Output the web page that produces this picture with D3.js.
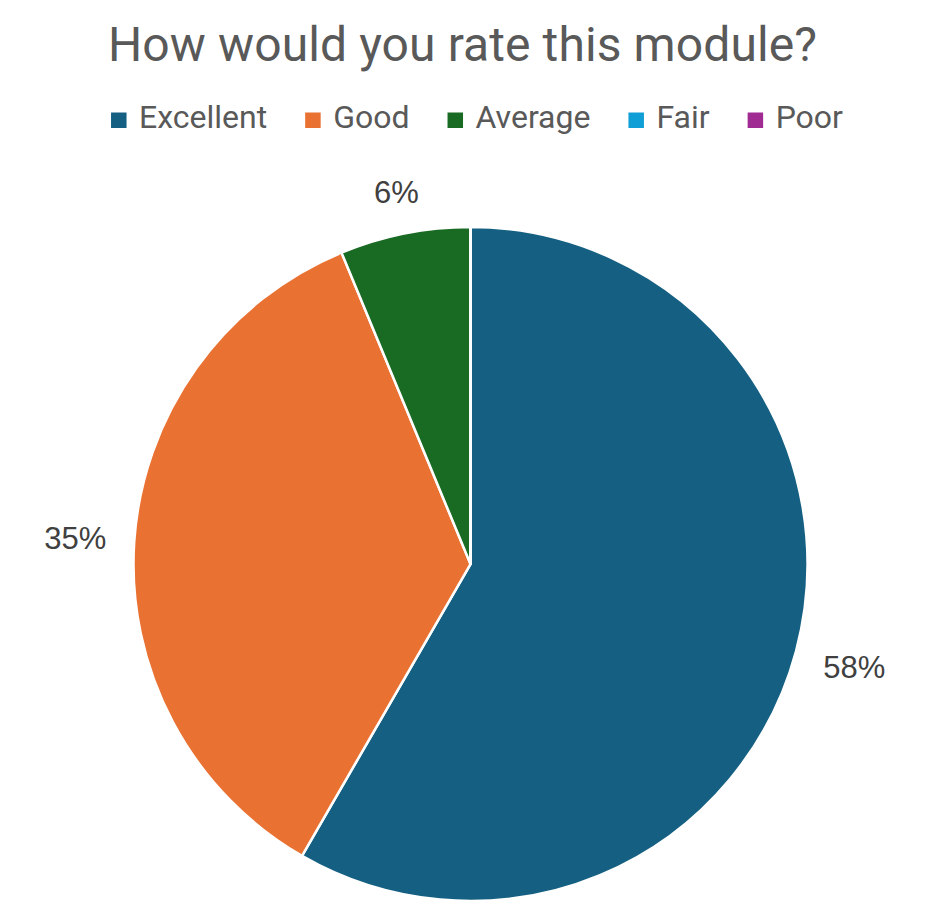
<!DOCTYPE html>
<html>
<head>
<meta charset="utf-8">
<script src="https://cdn.jsdelivr.net/npm/d3@7"></script>
<style>
  body { margin: 0; background: #fff; }
</style>
</head>
<body>
<div id="chart"></div>
<script>
// data
var categories = ["Excellent", "Good", "Average", "Fair", "Poor"];
var responses = [28, 17, 3, 0, 0];
var colors = ["#156082", "#E97132", "#196B24", "#0F9ED5", "#A02B93"];
var title = "How would you rate this module?";

var width = 945, height = 911;
var cx = 470.5, cy = 564, radius = 337;

var svg = d3.select("#chart")
  .append("svg")
    .attr("width", width)
    .attr("height", height);

// title
svg.append("text")
  .attr("x", 108)
  .attr("y", 61)
  .attr("textLength", 709)
  .attr("lengthAdjust", "spacing")
  .style("font-family", "Roboto")
  .style("font-size", "48px")
  .style("fill", "#595959")
  .text(title);

// legend
var legend = svg.append("g");
var lx = 0, itemGap = 38;
categories.forEach(function(c, i) {
  var item = legend.append("g").attr("transform", "translate(" + lx + ",0)");
  item.append("rect")
    .attr("x", 0)
    .attr("y", 112.5)
    .attr("width", 15.5)
    .attr("height", 15.5)
    .attr("fill", colors[i]);
  var t = item.append("text")
    .attr("x", 28)
    .attr("y", 128)
    .style("font-family", "Roboto")
    .style("font-size", "32px")
    .style("fill", "#595959")
    .text(c);
  lx += 28 + t.node().getComputedTextLength() + itemGap;
});
var legendW = lx - itemGap;
legend.attr("transform", "translate(" + (477 - legendW / 2) + ",0)");

// pie
var total = d3.sum(responses);
var pie = d3.pie().sort(null).value(function(d) { return d; });
var arc = d3.arc().innerRadius(0).outerRadius(radius);
var arcs = pie(responses);

var g = svg.append("g").attr("transform", "translate(" + cx + "," + cy + ")");

g.selectAll("path")
  .data(arcs)
  .enter()
  .append("path")
    .attr("d", arc)
    .attr("fill", function(d, i) { return colors[i]; })
    .attr("stroke", "#fff")
    .attr("stroke-width", 2.5)
    .attr("stroke-linejoin", "round");

// data labels outside end
var fmt = d3.format(".0%");
var gap = 27.5, capH = 31 * 0.716;
arcs.forEach(function(d) {
  if (d.value === 0) return;
  var a = (d.startAngle + d.endAngle) / 2;
  var t = g.append("text")
    .attr("text-anchor", "middle")
    .style("font-family", "Liberation Sans, Arial, sans-serif")
    .style("font-size", "31px")
    .style("fill", "#404040")
    .text(fmt(d.value / total));
  var hw = t.node().getComputedTextLength() / 2;
  var r = radius + gap + Math.abs(Math.sin(a)) * hw + Math.abs(Math.cos(a)) * capH / 2;
  t.attr("x", Math.sin(a) * r)
   .attr("y", -Math.cos(a) * r + capH / 2);
});
</script>
</body>
</html>
